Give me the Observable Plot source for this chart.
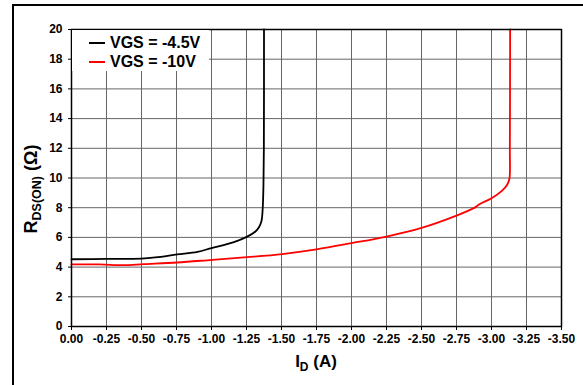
<!DOCTYPE html>
<html>
<head>
<meta charset="utf-8">
<script src="https://cdn.jsdelivr.net/npm/d3@7"></script>
<script src="https://cdn.jsdelivr.net/npm/@observablehq/plot@0.6"></script>
<style>
  html, body { margin: 0; padding: 0; background: #fff; overflow: hidden; width: 583px; height: 385px; }
  #wrap { position: relative; width: 583px; height: 385px; }
  #border { position: absolute; left: 12px; top: 4px; width: 800px; height: 600px; border-left: 2px solid #000; border-top: 2px solid #000; }
  #chart { position: absolute; left: 0; top: 0; }
  #legend { position: absolute; left: 72px; top: 30px; width: 137px; height: 41px; background: #fff;
            font-family: "Liberation Sans", Arial, sans-serif; font-weight: bold; font-size: 16px; color: #000; }
  .item { position: absolute; left: 17px; height: 18px; line-height: 18px; white-space: nowrap; }
  .swatch { display: inline-block; width: 16px; height: 2px; vertical-align: middle; margin-right: 5px; position: relative; top: -1px; }
</style>
</head>
<body>
<div id="wrap">
  <div id="border"></div>
  <div id="chart"></div>
  <div id="legend"></div>
</div>
<script>
// Series: VGS = -4.5V
const idBlack = [0, -0.25, -0.5, -0.6, -0.755, -0.9, -1.0, -1.16, -1.255, -1.314, -1.34, -1.357, -1.366, -1.371, -1.374, -1.375];
const rBlack  = [4.53, 4.55, 4.57, 4.65, 4.85, 5.03, 5.28, 5.68, 6.05, 6.4, 6.7, 7.1, 8.0, 9.5, 12, 20];
// Series: VGS = -10V
const idRed = [0, -0.2, -0.374, -0.516, -0.755, -1.005, -1.255, -1.505, -1.75, -2.0, -2.25, -2.5, -2.75, -2.874, -2.92, -3.0, -3.076, -3.112, -3.128, -3.131, -3.133];
const rRed  = [4.18, 4.18, 4.13, 4.2, 4.31, 4.49, 4.67, 4.88, 5.19, 5.61, 6.06, 6.64, 7.47, 7.97, 8.26, 8.63, 9.15, 9.55, 9.95, 12, 20];

const seriesNames = ["VGS = -4.5V", "VGS = -10V"];
const seriesColors = ["#000000", "#ff0000"];
const xTicks = [0, -0.25, -0.5, -0.75, -1.0, -1.25, -1.5, -1.75, -2.0, -2.25, -2.5, -2.75, -3.0, -3.25, -3.5];
const yTicks = [0, 2, 4, 6, 8, 10, 12, 14, 16, 18, 20];

const data = [
  ...idBlack.map((x, i) => ({x, y: rBlack[i], s: seriesNames[0]})),
  ...idRed.map((x, i) => ({x, y: rRed[i], s: seriesNames[1]}))
];

const fmtX = d => (Math.abs(d) < 1e-9 ? 0 : d).toFixed(2);

const chart = Plot.plot({
  width: 583,
  height: 385,
  marginLeft: 71,
  marginRight: 22,
  marginTop: 29,
  marginBottom: 59,
  style: { fontFamily: "'Liberation Sans', Arial, sans-serif", fontWeight: "bold", fontSize: "12px", color: "#000", background: "transparent" },
  x: { domain: [0, -3.5], ticks: xTicks, tickFormat: fmtX, label: null },
  y: { domain: [0, 20], ticks: yTicks, label: null },
  color: { domain: seriesNames, range: seriesColors },
  marks: [
    Plot.gridX(xTicks, { stroke: "#666", strokeOpacity: 1, strokeWidth: 1 }),
    Plot.gridY(yTicks, { stroke: "#666", strokeOpacity: 1, strokeWidth: 1 }),
    Plot.axisX(xTicks, { tickSize: 4, tickPadding: 4, tickFormat: fmtX, fontSize: 12, fontWeight: "bold", label: null, stroke: "#000" }),
    Plot.axisY(yTicks, { tickSize: 3, tickPadding: 6, fontSize: 12, fontWeight: "bold", label: null, stroke: "#000" }),
    Plot.line(data, { x: "x", y: "y", z: "s", stroke: "s", strokeWidth: 1.8, curve: "catmull-rom" }),
    Plot.frame({ stroke: "#000", strokeWidth: 1.5 })
  ]
});
document.getElementById("chart").appendChild(chart);

// Axis titles with subscripts
const svg = d3.select(chart);
const xl = svg.append("text")
  .attr("x", 316).attr("y", 367)
  .attr("text-anchor", "middle")
  .style("font-family", "'Liberation Sans', Arial, sans-serif")
  .style("font-weight", "bold").style("font-size", "17px").attr("fill", "#000");
xl.append("tspan").text("I");
xl.append("tspan").text("D").style("font-size", "12px").attr("dy", 4);
xl.append("tspan").text(" (A)").attr("dy", -4);

const yl = svg.append("text")
  .attr("transform", "translate(37,189) rotate(-90)")
  .attr("text-anchor", "middle")
  .style("font-family", "'Liberation Sans', Arial, sans-serif")
  .style("font-weight", "bold").style("font-size", "18px").attr("fill", "#000");
yl.append("tspan").text("R");
yl.append("tspan").text("DS(ON)").style("font-size", "12.5px").attr("dy", 4);
yl.append("tspan").text(" (Ω)").attr("dy", -4);

// Legend
const legend = d3.select("#legend");
seriesNames.forEach((name, i) => {
  const it = legend.append("div").attr("class", "item").style("top", (4 + i * 19) + "px");
  it.append("span").attr("class", "swatch").style("background", seriesColors[i]);
  it.append("span").text(name);
});
</script>
</body>
</html>
